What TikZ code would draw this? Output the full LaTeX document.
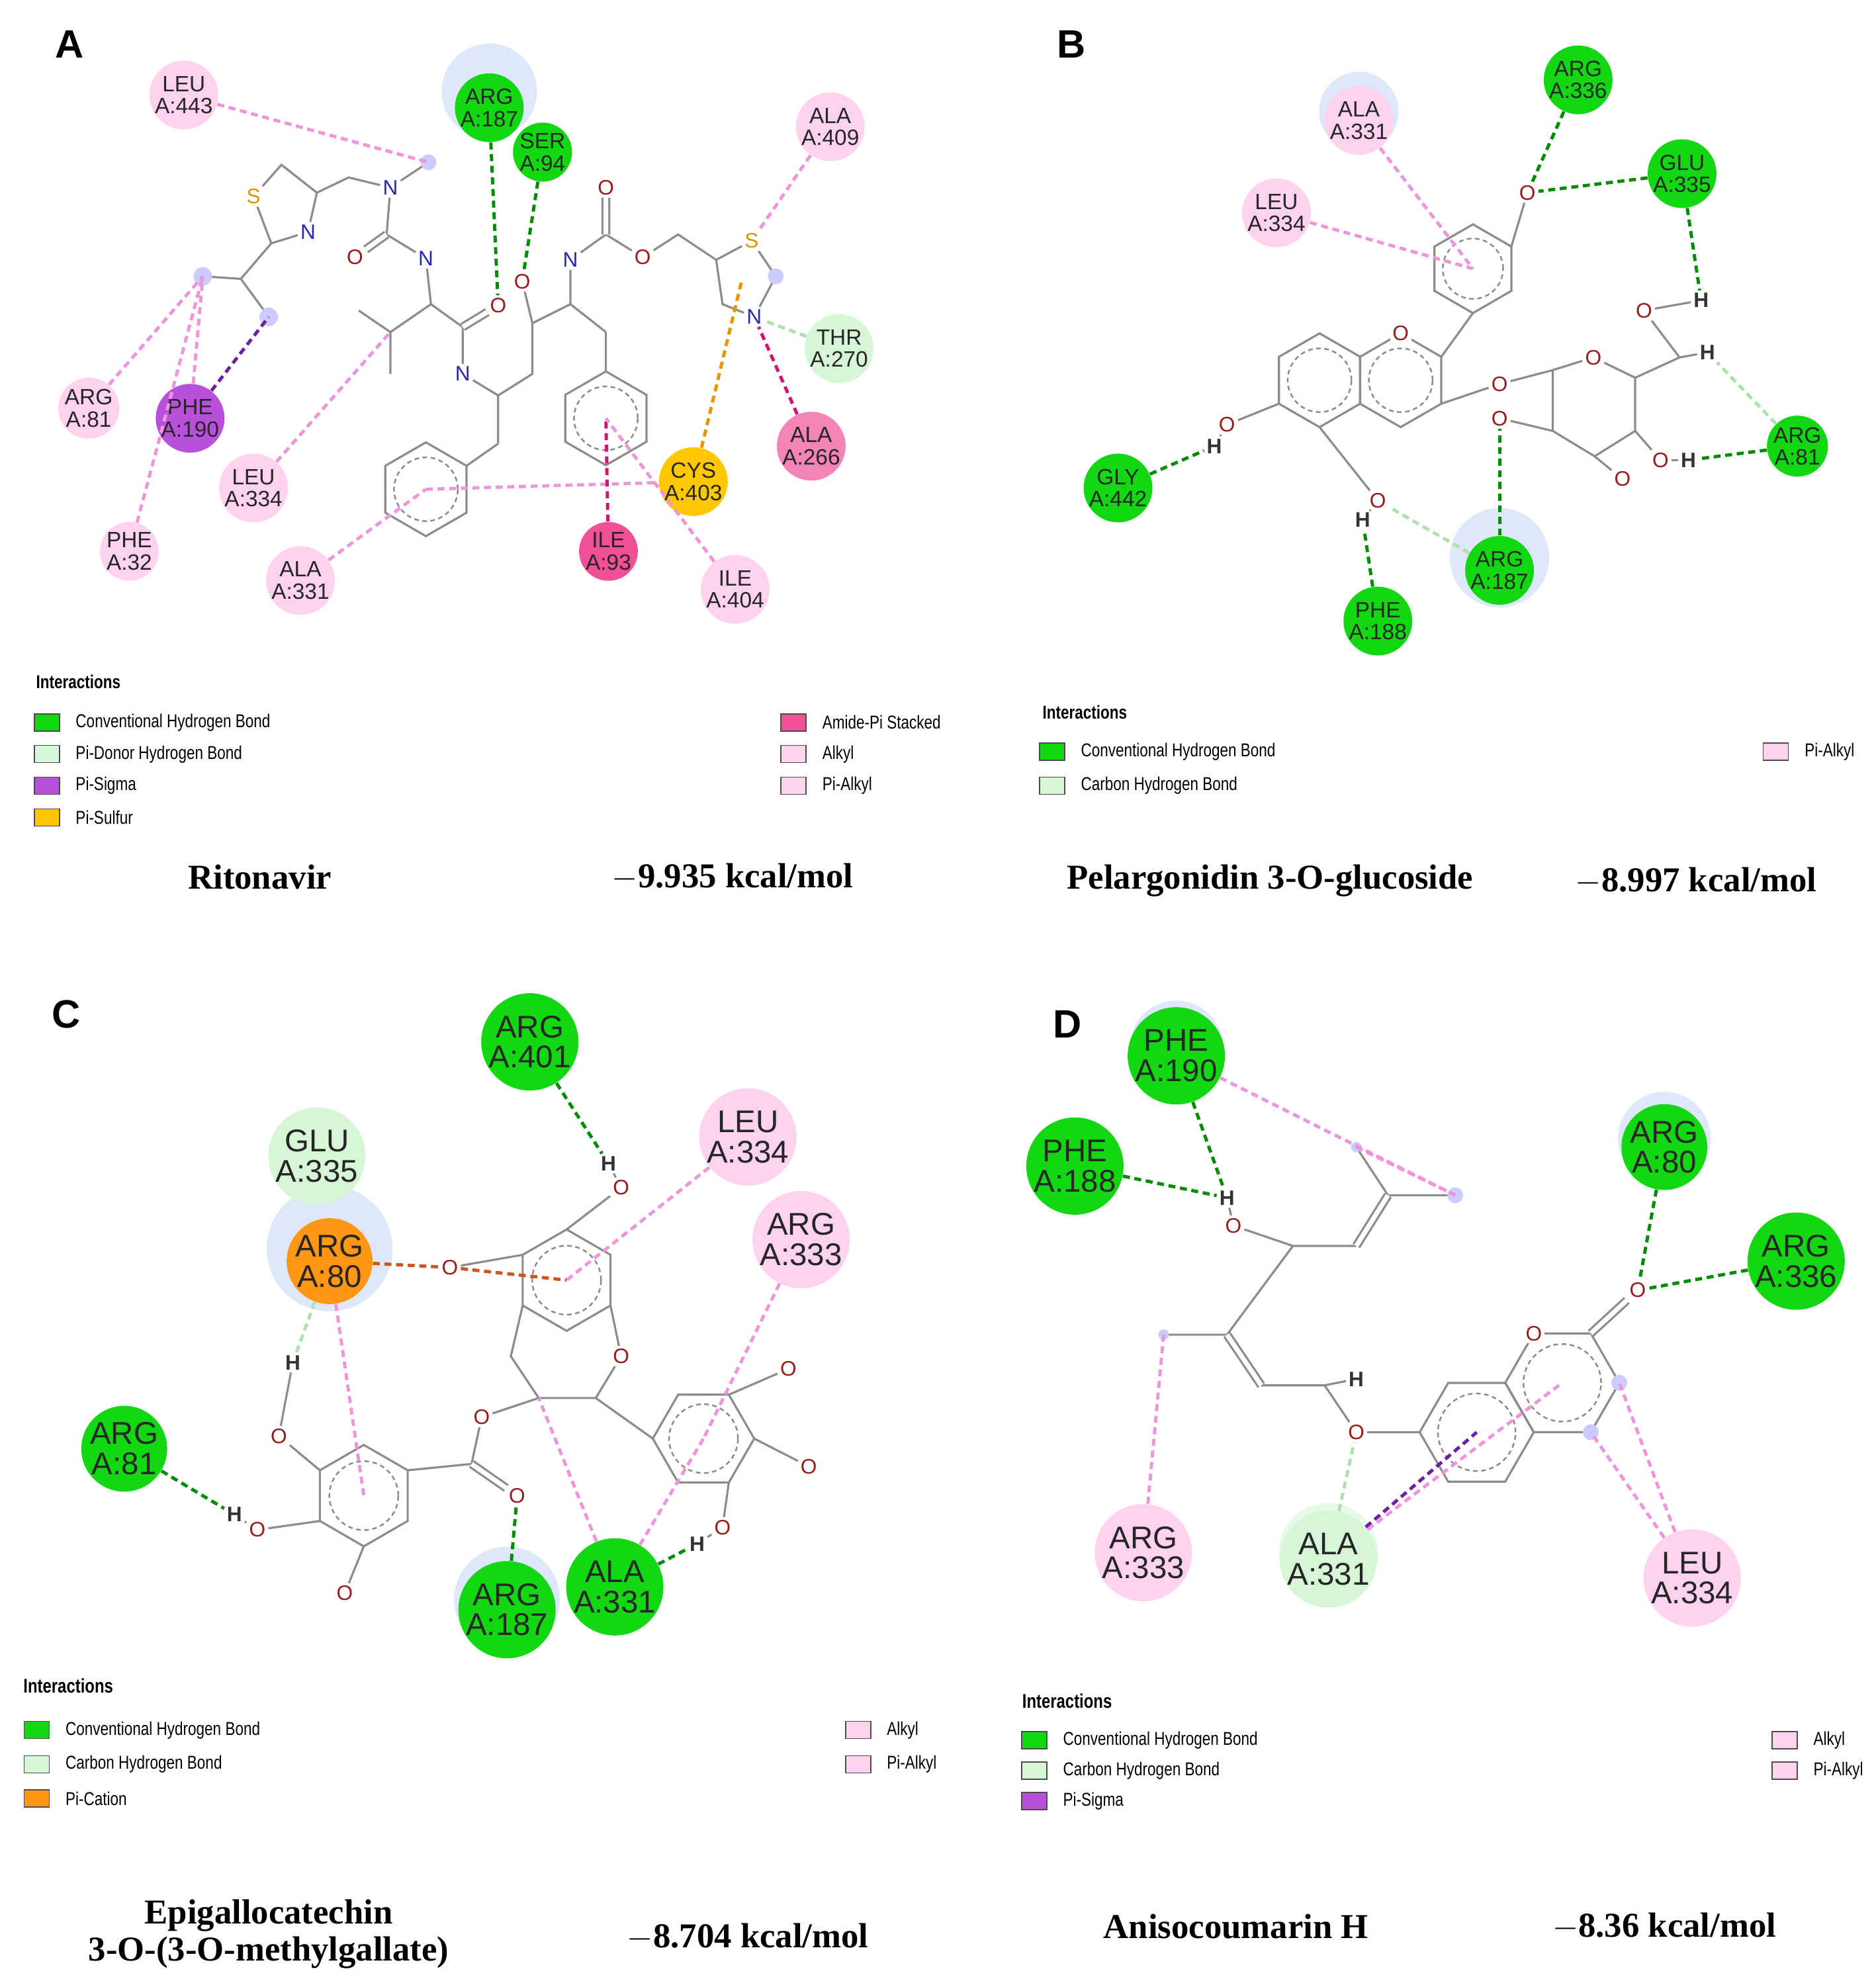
\documentclass[tikz,border=0pt]{standalone}
\usepackage{fontspec}
\setmainfont{Liberation Serif}
\newfontfamily\lsans{Liberation Sans}
\newfontfamily\narrow{Liberation Sans}[FakeStretch=0.8]
\usetikzlibrary{calc}
\definecolor{hbg}{RGB}{20,215,20}
\definecolor{hbl}{RGB}{0,140,0}
\definecolor{lgr}{RGB}{215,245,215}
\definecolor{lgrl}{RGB}{175,225,175}
\definecolor{pk}{RGB}{255,210,240}
\definecolor{pkl}{RGB}{238,150,220}
\definecolor{pur}{RGB}{185,80,220}
\definecolor{purl}{RGB}{110,30,160}
\definecolor{org}{RGB}{255,150,20}
\definecolor{orgl}{RGB}{205,85,30}
\definecolor{yel}{RGB}{255,200,0}
\definecolor{yell}{RGB}{230,150,0}
\definecolor{mag}{RGB}{240,80,150}
\definecolor{magl}{RGB}{210,20,110}
\definecolor{halo}{RGB}{222,232,250}
\definecolor{oxy}{RGB}{150,30,30}
\definecolor{nit}{RGB}{40,40,180}
\definecolor{sul}{RGB}{220,150,0}
\tikzset{
 bond/.style={draw=black!45,line width=0.9pt},
 arom/.style={draw=black!45,line width=0.7pt,dash pattern=on 2pt off 1.5pt},
 res/.style={circle,minimum size=0.72cm,inner sep=0pt,align=center,font=\lsans\fontsize{9.5}{9.5}\selectfont,text=black!85},
 resB/.style={res,minimum size=0.95cm,font=\lsans\fontsize{13.5}{13}\selectfont},
 hb/.style={fill=hbg},
 ch/.style={fill=lgr},
 al/.style={fill=pk},
 ps/.style={fill=pur},
 pc/.style={fill=org},
 psu/.style={fill=yel},
 am/.style={fill=mag},
 ia/.style={line width=1.4pt,dash pattern=on 3pt off 2pt},
 ihb/.style={ia,draw=hbl},
 ich/.style={ia,draw=lgrl},
 ial/.style={ia,draw=pkl},
 ips/.style={ia,draw=purl},
 ipc/.style={ia,draw=orgl},
 ipsu/.style={ia,draw=yell},
 iam/.style={ia,draw=magl},
 O/.style={inner sep=1pt,text=oxy,font=\lsans\small},
 N/.style={inner sep=1pt,text=nit,font=\lsans\small},
 S/.style={inner sep=1pt,text=sul,font=\lsans\small},
 H/.style={inner sep=1pt,text=black!80,font=\lsans\bfseries\small},
 ttl/.style={font=\bfseries\fontsize{15}{15}\selectfont},
 lbl/.style={font=\lsans\bfseries\fontsize{17}{17}\selectfont},
 legt/.style={font=\narrow\fontsize{8}{8}\selectfont,anchor=west},
}
\newcommand\ring[5]{% name x y startangle radius
 \coordinate (#1) at (#2,#3);
 \foreach \k in {1,...,6}{\coordinate (#1-\k) at ($(#1)+({#4+60*\k}:#5)$);}
 \draw[bond] (#1-1)--(#1-2)--(#1-3)--(#1-4)--(#1-5)--(#1-6)--cycle;
 \draw[arom] (#1) circle[radius=0.68*#5*0.019155cm];}
\newcommand\leg[4]{\node[draw=black!70,fill=#3,minimum width=0.38cm,minimum height=0.26cm,inner sep=0pt] (#1) at (#2) {};
 \node[legt] at ($(#1.east)+(6,0)$) {#4};}
\begin{document}
\begin{tikzpicture}[x=0.019155cm,y=-0.019155cm]
\useasboundingbox (0,0) rectangle (1480,1567.7);
\fill[white] (0,0) rectangle (1480,1567.7);
\node[lbl] at (55,35) {A};
\node[lbl] at (845,35) {B};
\node[lbl] at (52,800) {C};
\node[lbl] at (842,808) {D};
% ================= A =================
\fill[halo] (386,72) circle[radius=0.72cm];
\node[S] (tS) at (200,155) {S};
\coordinate (t1) at (222,130); \coordinate (t2) at (250,152);
\node[N] (tN) at (243,183) {N}; \coordinate (t3) at (214,192);
\draw[bond] (tS)--(t1)--(t2)--(tN)--(t3)--(tS);
\coordinate (a1) at (275,140); \node[N] (aN1) at (308,148) {N};
\coordinate (a2) at (338,128); \coordinate (a3) at (305,185);
\node[O] (aO1) at (280,203) {O}; \node[N] (aN2) at (336,204) {N};
\coordinate (a4) at (340,240); \coordinate (a5) at (308,262);
\coordinate (a6) at (283,245); \coordinate (a7) at (308,295);
\coordinate (a8) at (365,258); \node[O] (aO2) at (393,241) {O};
\node[N] (aN3) at (365,295) {N}; \coordinate (a9) at (393,312);
\coordinate (a10) at (393,350);
\coordinate (a11) at (420,295); \coordinate (a12) at (420,255);
\node[O] (aO3) at (412,222) {O}; \coordinate (a13) at (450,240);
\node[N] (aN4) at (450,205) {N}; \coordinate (a14) at (478,185);
\node[O] (aO4) at (478,148) {O}; \node[O] (aO5) at (507,203) {O};
\coordinate (a15) at (535,185);
\coordinate (u1) at (565,205); \node[S] (uS) at (593,190) {S};
\coordinate (u2) at (612,218); \node[N] (uN) at (595,250) {N};
\coordinate (u3) at (570,240);
\coordinate (a16) at (478,262);
\coordinate (a17) at (190,220); \coordinate (a18) at (160,218); \coordinate (a19) at (212,250);
\draw[bond] (t2)--(a1)--(aN1)--(a2) (aN1)--(a3) (a3)--(aN2)--(a4)--(a5)--(a6) (a5)--(a7)
 (a4)--(a8)--(aN3)--(a9)--(a10) (a9)--(a11)--(a12)--(aO3) (a12)--(a13)--(aN4)--(a14)--(aO5)--(a15)--(u1)
 (a13)--(a16) (t3)--(a17)--(a18) (a17)--(a19);
\draw[bond,double,double distance=2pt] (a3)--(aO1) (a8)--(aO2) (a14)--(aO4);
\draw[bond] (u1)--(uS)--(u2)--(uN)--(u3)--(u1);
\ring{pA}{336}{386}{30}{37}
\ring{pB}{478}{330}{30}{37}
\draw[bond] (a10)--(pA-5) (a16)--(pB-4);
\fill[blue!20] (a2) circle[radius=0.12cm] (a18) circle[radius=0.14cm] (a19) circle[radius=0.14cm] (u2) circle[radius=0.12cm];
\coordinate (uc) at (585,222);
\node[res,al] (rL443) at (145,75) {LEU\\A:443};
\node[res,hb] (rR187) at (386,85) {ARG\\A:187};
\node[res,hb] (rS94) at (428,120) {SER\\A:94};
\node[res,al] (rA409) at (655,100) {ALA\\A:409};
\node[res,ch] (rT270) at (662,275) {THR\\A:270};
\node[res,am,fill=mag!70] (rA266) at (640,352) {ALA\\A:266};
\node[res,psu] (rC403) at (547,380) {CYS\\A:403};
\node[res,am] (rI93) at (480,435) {ILE\\A:93};
\node[res,al] (rI404) at (580,465) {ILE\\A:404};
\node[res,al] (rA331) at (237,458) {ALA\\A:331};
\node[res,al] (rL334) at (200,385) {LEU\\A:334};
\node[res,al] (rF32) at (102,435) {PHE\\A:32};
\node[res,al] (rR81) at (70,322) {ARG\\A:81};
\node[res,ps] (rF190) at (150,330) {PHE\\A:190};
\draw[ial] (rL443)--(a2); \draw[ihb] (rR187)--(aO2); \draw[ihb] (rS94)--(aO3);
\draw[ial] (rA409)--(uS); \draw[ich] (rT270)--(uN); \draw[iam] (rA266)--(uN);
\draw[ipsu] (rC403)--(uc); \draw[ial] (pA)--(rC403); \draw[iam] (rI93)--(pB);
\draw[ial] (rI404)--(pB); \draw[ial] (rA331)--(pA); \draw[ial] (rL334)--(a5);
\draw[ial] (rF32)--(a18); \draw[ial] (rR81)--(a18); \draw[ips] (rF190)--(a19);
\draw[ial] (rF190)--(a18);
\node[font=\narrow\bfseries\fontsize{8}{8}\selectfont,anchor=west] at (22,538) {Interactions};
\leg{la1}{37,570}{hbg}{Conventional Hydrogen Bond}
\leg{la2}{37,595}{lgr}{Pi-Donor Hydrogen Bond}
\leg{la3}{37,620}{pur}{Pi-Sigma}
\leg{la4}{37,645}{yel}{Pi-Sulfur}
\leg{la5}{626,570}{mag}{Amide-Pi Stacked}
\leg{la6}{626,595}{pk}{Alkyl}
\leg{la7}{626,620}{pk}{Pi-Alkyl}
\node[ttl] at (205,692) {Ritonavir};
\node[ttl] at (578,692) {$-$9.935 kcal/mol};
% ================= B =================
\fill[halo] (1072,88) circle[radius=0.6cm];
\fill[halo] (1183,440) circle[radius=0.75cm];
\ring{bP}{1162}{212}{30}{35}
\ring{bY}{1105}{300}{30}{37}
\ring{bA}{1041}{300}{30}{37}
\node[O,fill=white] (bOr) at (bY-4) {O};
\node[O] (bO4) at (1205,152) {O};
\node[O] (bO3) at (1183,303) {O};
\node[O] (bO7) at (968,335) {O}; \node[H] (bH7) at (958,352) {H};
\node[O] (bO5) at (1087,395) {O}; \node[H] (bH5) at (1075,410) {H};
\draw[bond] (bP-5)--(bO4) (bP-1)--(bY-5) (bY-6)--(bO3) (bA-2)--(bO7) (bO7)--(bH7) (bA-1)--(bO5) (bO5)--(bH5);
\coordinate (g1) at (1225,292); \node[O] (gO) at (1257,282) {O};
\coordinate (g5) at (1290,298); \coordinate (g4) at (1290,340);
\coordinate (g3) at (1258,360); \coordinate (g2) at (1225,340);
\draw[bond] (g1)--(gO)--(g5)--(g4)--(g3)--(g2)--(g1) (bO3)--(g1);
\node[O] (gO2) at (1183,330) {O}; \node[O] (gO3) at (1280,378) {O};
\node[O] (gO4) at (1310,363) {O}; \node[H] (gH4) at (1332,363) {H};
\coordinate (g6) at (1325,282); \node[O] (gO6) at (1297,245) {O};
\node[H] (gH6) at (1342,237) {H}; \node[H] (gH6b) at (1347,278) {H};
\draw[bond] (g2)--(gO2) (g3)--(gO3) (g4)--(gO4)--(gH4) (g5)--(g6)--(gO6)--(gH6) (g6)--(gH6b);
\node[res,al] (bA331) at (1072,95) {ALA\\A:331};
\node[res,hb] (bR336) at (1245,63) {ARG\\A:336};
\node[res,hb] (bE335) at (1327,137) {GLU\\A:335};
\node[res,al] (bL334) at (1007,168) {LEU\\A:334};
\node[res,hb] (bR81) at (1418,352) {ARG\\A:81};
\node[res,hb] (bG442) at (882,385) {GLY\\A:442};
\node[res,hb] (bR187) at (1183,450) {ARG\\A:187};
\node[res,hb] (bF188) at (1087,490) {PHE\\A:188};
\draw[ial] (bA331)--(bP); \draw[ial] (bL334)--(bP);
\draw[ihb] (bR336)--(bO4); \draw[ihb] (bE335)--(bO4); \draw[ihb] (bE335)--(gH6);
\draw[ihb] (bR81)--(gH4); \draw[ich] (bR81)--(gH6b); \draw[ihb] (bG442)--(bH7);
\draw[ihb] (bF188)--(bH5); \draw[ihb] (bR187)--(gO2); \draw[ich] (bR187)--(bO5);
\node[font=\narrow\bfseries\fontsize{8}{8}\selectfont,anchor=west] at (816,562) {Interactions};
\leg{lb1}{830,593}{hbg}{Conventional Hydrogen Bond}
\leg{lb2}{830,620}{lgr}{Carbon Hydrogen Bond}
\leg{lb3}{1401,593}{pk}{Pi-Alkyl}
\node[ttl] at (1002,695) {Pelargonidin 3-O-glucoside};
\node[ttl] at (1338,695) {$-$8.997 kcal/mol};
% ================= C =================
\fill[halo] (260,985) circle[radius=0.95cm];
\fill[halo] (400,1262) circle[radius=0.8cm];
\fill[lgr!60] (250,905) circle[radius=0.6cm];
\ring{cA}{447}{1010}{30}{40}
\ring{cG}{287}{1180}{30}{40}
\ring{cB}{555}{1135}{0}{40}
\node[O] (cO1) at (490,937) {O}; \node[H] (cH1) at (480,918) {H};
\node[O] (cOm) at (355,1000) {O};
\node[O] (cOr) at (490,1070) {O};
\coordinate (c2) at (470,1103); \coordinate (c3) at (425,1103); \coordinate (c4) at (403,1070);
\node[O] (cOe) at (380,1118) {O}; \coordinate (cC) at (372,1155); \node[O] (cOc) at (408,1180) {O};
\draw[bond] (cA-4)--(cO1) (cO1)--(cH1) (cA-3)--(cOm) (cA-6)--(cOr)--(c2)--(c3)--(c4)--(cA-2)
 (c3)--(cOe)--(cC)--(cG-5) (c2)--(cB-3);
\draw[bond,double,double distance=2pt] (cC)--(cOc);
\node[O] (cB1) at (622,1080) {O}; \node[O] (cB2) at (638,1157) {O};
\node[O] (cB3) at (570,1205) {O}; \node[H] (cBH) at (550,1218) {H};
\draw[bond] (cB-5)--(cB1) (cB-6)--(cB2) (cB-1)--(cB3)--(cBH);
\node[O] (cG1) at (220,1133) {O}; \node[H] (cGH1) at (231,1075) {H};
\node[O] (cG2) at (203,1207) {O}; \node[H] (cGH2) at (185,1195) {H};
\node[O] (cG3) at (272,1257) {O};
\draw[bond] (cG-3)--(cG1)--(cGH1) (cG-2)--(cG2)--(cGH2) (cG-1)--(cG3);
\node[resB,hb] (cR401) at (418,822) {ARG\\A:401};
\node[resB,ch] (cE335) at (250,912) {GLU\\A:335};
\node[resB,al] (cL334) at (590,897) {LEU\\A:334};
\node[resB,pc] (cR80) at (260,995) {ARG\\A:80};
\node[resB,al] (cR333) at (632,978) {ARG\\A:333};
\node[resB,hb] (cR81) at (98,1143) {ARG\\A:81};
\node[resB,hb] (cR187) at (400,1270) {ARG\\A:187};
\node[resB,hb] (cA331) at (485,1252) {ALA\\A:331};
\draw[ihb] (cR401)--(cH1); \draw[ial] (cL334)--(cA); \draw[ipc] (cR80)--(cOm); \draw[ipc] (cOm)--(cA);
\draw[ich] (cR80)--(cGH1); \draw[ial] (cR80)--(cG); \draw[ial] (cR333)--(cB);
\draw[ihb] (cR81)--(cGH2); \draw[ihb] (cR187)--(cOc); \draw[ihb] (cA331)--(cBH);
\draw[ial] (cA331)--(c3); \draw[ial] (cA331)--(cB);
\node[font=\narrow\bfseries\fontsize{8.5}{8}\selectfont,anchor=west] at (12,1330) {Interactions};
\leg{lc1}{29,1365}{hbg}{Conventional Hydrogen Bond}
\leg{lc2}{29,1392}{lgr}{Carbon Hydrogen Bond}
\leg{lc3}{29,1419}{org}{Pi-Cation}
\leg{lc4}{677,1365}{pk}{Alkyl}
\leg{lc5}{677,1392}{pk}{Pi-Alkyl}
\node[ttl,align=center,font=\bfseries\fontsize{15}{16}\selectfont] at (212,1526) {Epigallocatechin\\3-O-(3-O-methylgallate)};
\node[ttl] at (590,1528) {$-$8.704 kcal/mol};
% ================= D =================
\fill[halo] (928,826) circle[radius=0.7cm];
\fill[halo] (1313,898) circle[radius=0.7cm];
\fill[lgr!60] (1048,1225) circle[radius=0.75cm];
\ring{dB}{1165}{1130}{0}{45}
\ring{dP}{1232.5}{1091}{0}{45}
\node[O,fill=white] (dO1) at (dP-4) {O};
\node[O] (dOc) at (1292,1018) {O};
\draw[bond,double,double distance=2pt] (dP-5)--(dOc);
\node[O] (dO7) at (1070,1130) {O};
\coordinate (d1) at (1045,1093); \node[H] (dH1) at (1070,1088) {H};
\coordinate (d2) at (995,1093); \coordinate (d3) at (968,1053); \coordinate (d4) at (918,1053);
\coordinate (d5) at (1020,983); \node[O] (dO5) at (973,967) {O}; \node[H] (dH5) at (968,945) {H};
\coordinate (d6) at (1070,983); \coordinate (d7) at (1095,943);
\coordinate (d8) at (1070,905); \coordinate (d9) at (1148,943);
\draw[bond] (dB-3)--(dO7)--(d1)--(d2) (d3)--(d4) (d3)--(d5)--(dO5)--(dH5) (d5)--(d6) (d7)--(d8) (d7)--(d9) (d1)--(dH1);
\draw[bond,double,double distance=2pt] (d2)--(d3) (d6)--(d7);
\fill[blue!20] (d4) circle[radius=0.08cm] (d8) circle[radius=0.08cm] (d9) circle[radius=0.12cm] (dP-1) circle[radius=0.12cm] (dP-6) circle[radius=0.12cm];
\node[resB,hb] (dF190) at (928,833) {PHE\\A:190};
\node[resB,hb] (dF188) at (848,920) {PHE\\A:188};
\node[resB,hb] (dR80) at (1313,905) {ARG\\A:80};
\node[resB,hb] (dR336) at (1417,995) {ARG\\A:336};
\node[resB,al] (dR333) at (902,1225) {ARG\\A:333};
\node[resB,ch] (dA331) at (1048,1230) {ALA\\A:331};
\node[resB,al] (dL334) at (1335,1245) {LEU\\A:334};
\draw[ihb] (dF190)--(dH5); \draw[ihb] (dF188)--(dH5); \draw[ial] (dF190)--(d9); \draw[ial] (d8)--(d9);
\draw[ihb] (dR80)--(dOc); \draw[ihb] (dR336)--(dOc); \draw[ial] (dR333)--(d4);
\draw[ich] (dA331)--(dO7); \draw[ips] (dA331)--(dB); \draw[ial] (dA331)--(dP);
\draw[ial] (dL334)--(dP-1); \draw[ial] (dL334)--(dP-6);
\node[font=\narrow\bfseries\fontsize{8.5}{8}\selectfont,anchor=west] at (800,1342) {Interactions};
\leg{ld1}{816,1373}{hbg}{Conventional Hydrogen Bond}
\leg{ld2}{816,1397}{lgr}{Carbon Hydrogen Bond}
\leg{ld3}{816,1421}{pur}{Pi-Sigma}
\leg{ld4}{1408,1373}{pk}{Alkyl}
\leg{ld5}{1408,1397}{pk}{Pi-Alkyl}
\node[ttl] at (975,1520) {Anisocoumarin H};
\node[ttl] at (1313,1520) {$-$8.36 kcal/mol};
\end{tikzpicture}
\end{document}
